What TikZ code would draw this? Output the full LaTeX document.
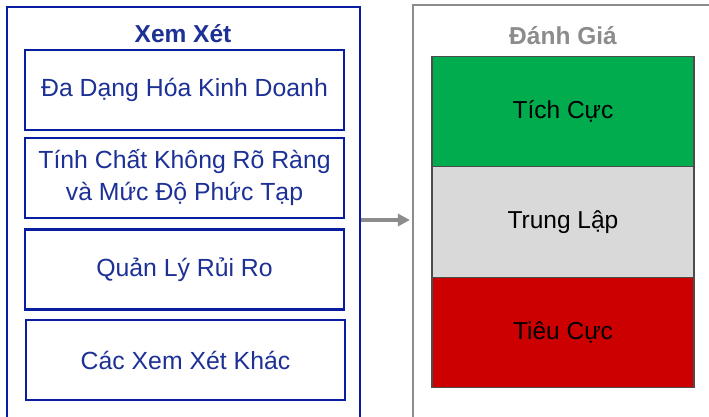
\documentclass[tikz,border=0pt]{standalone}
\usepackage{fontspec}
\setmainfont{Liberation Sans}
\usetikzlibrary{arrows.meta}
\definecolor{navyline}{RGB}{8,30,160}
\definecolor{navytext}{RGB}{28,48,150}
\definecolor{greyline}{RGB}{140,140,140}
\definecolor{posgreen}{RGB}{0,172,78}
\definecolor{neugrey}{RGB}{217,217,217}
\definecolor{negred}{RGB}{204,0,0}
\tikzset{
  outerblue/.style={draw=navyline, line width=2pt, minimum width=353pt, minimum height=423pt, inner sep=0pt},
  outergrey/.style={draw=greyline, line width=2.2pt, minimum width=307pt, minimum height=425pt, inner sep=0pt},
  itembox/.style={draw=navyline, line width=2.4pt, minimum width=319pt, minimum height=80pt, inner sep=0pt,
    text=navytext, align=center, font=\fontsize{24.8}{32}\selectfont},
  titleblue/.style={text=navytext, font=\fontsize{24.5}{30}\selectfont\bfseries},
  titlegrey/.style={text=greyline, font=\fontsize{24.5}{30}\selectfont\bfseries},
  ratebox/.style={draw=black!70, line width=1.2pt, minimum width=262pt, minimum height=110.5pt, inner sep=0pt,
    text=black, font=\fontsize{24.5}{30}\selectfont},
  flowarrow/.style={draw=greyline, line width=3.6pt, -{Triangle[length=12pt,width=12pt]}, shorten >=2pt}
}
\begin{document}
\begin{tikzpicture}[x=1pt,y=-1pt]
\useasboundingbox (0,0) rectangle (709,416);
\clip (0,0) rectangle (709,416);
\fill[white] (0,0) rectangle (709,416);
% left group
\node[outerblue] (left) at (183.5,218.5) {};
\node[titleblue] (ltitle) at (183,34) {Xem Xét};
\node[itembox] (b1) at (184.5,90) {Đa Dạng Hóa Kinh Doanh};
\node[itembox] (b2) at (184.5,178) {Tính Chất Không Rõ Ràng\\và Mức Độ Phức Tạp};
\node[itembox] (b3) at (184.5,269.5) {Quản Lý Rủi Ro};
\node[itembox] (b4) at (185.5,360) {Các Xem Xét Khác};
% right group
\node[outergrey] (right) at (566.5,217.5) {};
\node[titlegrey] (rtitle) at (563,36) {Đánh Giá};
\node[ratebox, fill=posgreen] (pos) at (563,111.5) {Tích Cực};
\node[ratebox, fill=neugrey] (neu) at (563,222) {Trung Lập};
\node[ratebox, fill=negred] (neg) at (563,332.5) {Tiêu Cực};
% connector
\coordinate (ay) at (0,220);
\draw[flowarrow] (left.east |- ay) -- (right.west |- ay);
\end{tikzpicture}
\end{document}
